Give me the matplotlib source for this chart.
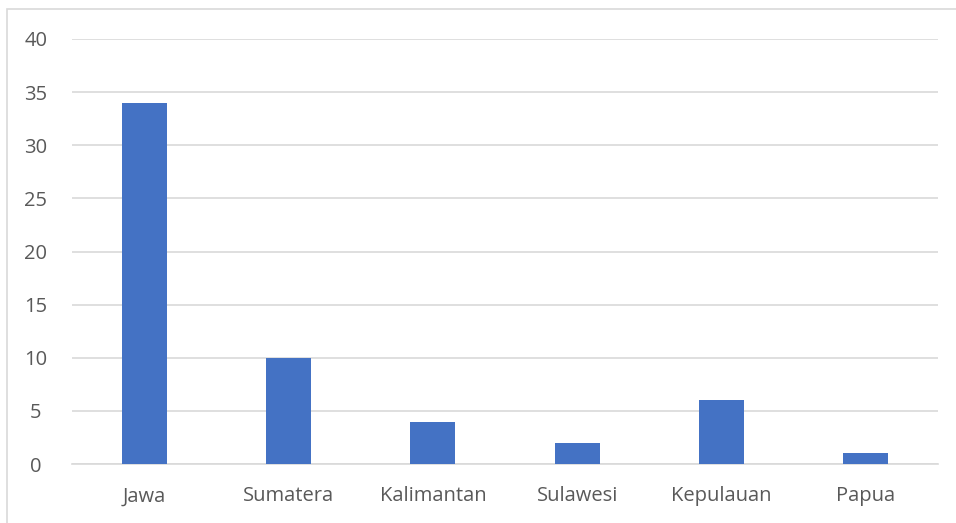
import matplotlib
matplotlib.use("Agg")
import matplotlib.pyplot as plt
from matplotlib.patches import Rectangle

categories = ["Jawa", "Sumatera", "Kalimantan", "Sulawesi", "Kepulauan", "Papua"]
values = [34, 10, 4, 2, 6, 1]
yticks = [0, 5, 10, 15, 20, 25, 30, 35, 40]

plt.rcParams['font.family'] = ['Open Sans', 'DejaVu Sans']

fig = plt.figure(figsize=(9.56, 5.23), dpi=100)
ax = fig.add_axes([72/956, 1-464/523, (938-72)/956, (464-39)/523])

x = list(range(len(categories)))
ax.bar(x, values, width=0.31, color="#4472C4", zorder=3)
ax.set_xlim(-0.5, len(categories)-0.5)
ax.set_ylim(0, 40)
ax.set_yticks(yticks)
ax.set_xticks(x)
ax.set_xticklabels(categories)
ax.grid(axis='y', color="#d9d9d9", linewidth=1.2, zorder=0)
for s in ['top', 'right', 'left']:
    ax.spines[s].set_visible(False)
ax.spines['bottom'].set_color("#d9d9d9")
ax.spines['bottom'].set_linewidth(1.2)
ax.tick_params(axis='both', length=0, labelsize=14.5, colors="#595959")
ax.tick_params(axis='y', pad=26)
ax.tick_params(axis='x', pad=16)
for lbl in ax.get_yticklabels():
    lbl.set_horizontalalignment('center')

fig.patches.append(Rectangle((7/956, -0.1), 1.0, 1.1 - 9/523, transform=fig.transFigure,
                             fill=False, edgecolor="#d9d9d9", linewidth=1.2))

fig.savefig("out.png", dpi=100)
